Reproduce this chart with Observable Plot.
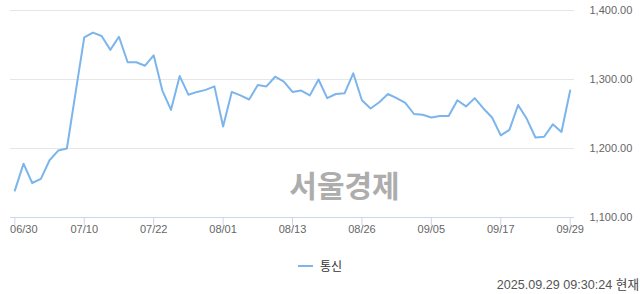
<!DOCTYPE html>
<html>
<head>
<meta charset="utf-8">
<script src="https://cdn.jsdelivr.net/npm/d3@7"></script>
<script src="https://cdn.jsdelivr.net/npm/@observablehq/plot@0.6"></script>
<style>
  html, body { margin: 0; padding: 0; background: #fff; }
  #wrap { position: relative; width: 640px; height: 294px; overflow: hidden; font-family: "Liberation Sans", Arial, "Noto Sans CJK KR", sans-serif; }
  #legend { position: absolute; left: 298px; top: 257px; font-size: 12px; color: #333; display: flex; align-items: center; }
  #legend .sw { display: inline-block; width: 15px; height: 2px; background: #7cb5ec; margin-right: 7px; }
  #legend .lb { font-family: "Noto Sans CJK KR", sans-serif; }
  #caption { position: absolute; right: 1px; top: 274px; font-size: 12.6px; color: #555; white-space: nowrap; }
  #caption .k { font-family: "Noto Sans CJK KR", sans-serif; color: #444; }
</style>
</head>
<body>
<div id="wrap">
  <div id="chart"></div>
  <div id="legend"><span class="sw"></span><span class="lb">통신</span></div>
  <div id="caption">2025.09.29 09:30:24 <span class="k">현재</span></div>
</div>
<script>
const seriesName = "통신";
const dates = ["06/30","07/01","07/02","07/03","07/04","07/07","07/08","07/09","07/10","07/11",
  "07/14","07/15","07/16","07/17","07/18","07/21","07/22","07/23","07/24","07/25",
  "07/28","07/29","07/30","07/31","08/01","08/04","08/05","08/06","08/07","08/08",
  "08/11","08/12","08/13","08/14","08/18","08/19","08/20","08/21","08/22","08/25",
  "08/26","08/27","08/28","08/29","09/01","09/02","09/03","09/04","09/05","09/08",
  "09/09","09/10","09/11","09/12","09/15","09/16","09/17","09/18","09/19","09/22",
  "09/23","09/24","09/25","09/26","09/29"];
const values = [1139,1178,1150,1156,1183,1197,1200,1281,1361,1368,
  1363,1343,1362,1325,1325,1320,1335,1284,1256,1305,
  1278,1282,1285,1290,1232,1282,1277,1271,1292,1290,
  1304,1297,1282,1284,1277,1300,1273,1279,1280,1309,
  1270,1258,1267,1279,1273,1266,1250,1249,1245,1247,
  1247,1270,1261,1273,1258,1245,1219,1227,1263,1243,
  1216,1217,1235,1224,1284];
const xTickLabels = ["06/30","07/10","07/22","08/01","08/13","08/26","09/05","09/17","09/29"];
const yTicks = [1100,1200,1300,1400];
const watermark = "서울경제";

const data = dates.map((d, i) => ({date: d, value: values[i]}));

const chart = Plot.plot({
  width: 640,
  height: 245,
  marginLeft: 10,
  marginRight: 66,
  marginTop: 10,
  marginBottom: 28,
  style: {fontFamily: '"Liberation Sans", Arial, sans-serif', background: "#fff"},
  x: {type: "point", domain: dates, padding: 0.5},
  y: {domain: [1100, 1400]},
  marks: [
    Plot.ruleY(yTicks.slice(1), {stroke: "#e6e6e6", strokeWidth: 1}),
    Plot.text([watermark], {frameAnchor: "bottom", dx: 52, dy: -21, fontSize: 30, fontWeight: "bold",
      fill: "#adadad", fontFamily: '"Noto Sans CJK KR", sans-serif', text: d => d}),
    Plot.ruleY([1100], {stroke: "#ccd6eb", strokeWidth: 1}),
    Plot.axisX({ticks: xTickLabels, tickSize: 8, stroke: "#ccd6eb", strokeOpacity: 1, tickFormat: () => "", label: null}),
    Plot.text(xTickLabels.slice(0, 1), {x: d => d, frameAnchor: "bottom", dy: 15, dx: 9, fontSize: 11, fill: "#666", text: d => d}),
    Plot.text(xTickLabels.slice(1), {x: d => d, frameAnchor: "bottom", dy: 15, fontSize: 11, fill: "#666", text: d => d}),
    Plot.axisY({ticks: yTicks, anchor: "right", tickSize: 0, tickPadding: 15, fontSize: 11, fill: "#666",
      tickFormat: d3.format(",.2f"), label: null}),
    Plot.line(data, {x: "date", y: "value", stroke: "#7cb5ec", strokeWidth: 2, strokeLinejoin: "round", strokeLinecap: "round"})
  ]
});
document.getElementById("chart").appendChild(chart);
</script>
</body>
</html>
